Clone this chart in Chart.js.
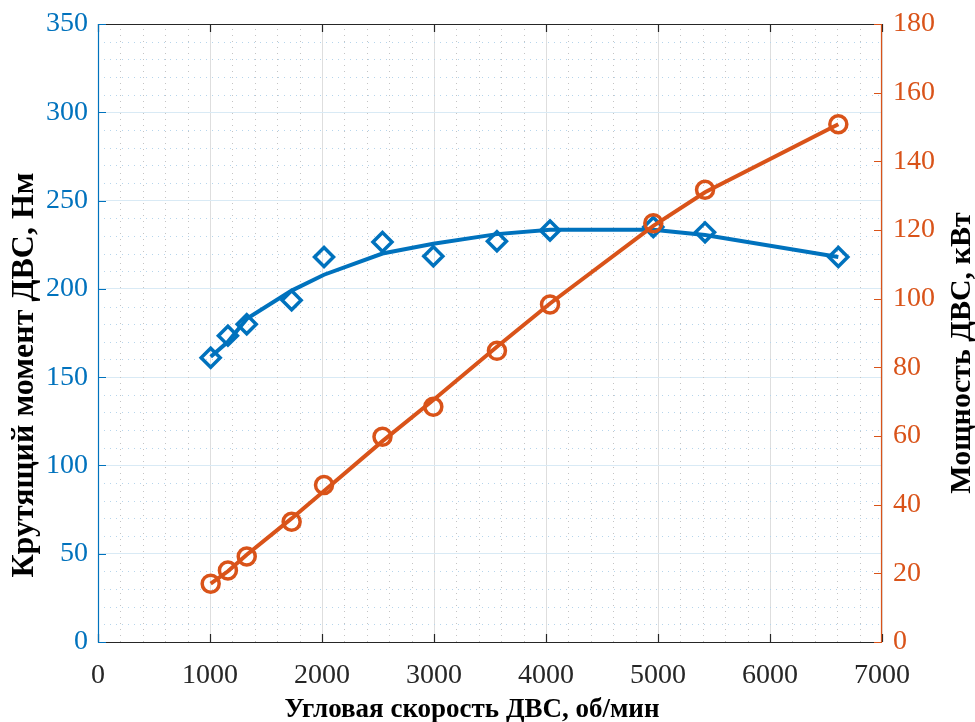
<!DOCTYPE html>
<html lang="ru">
<head>
  <meta charset="UTF-8">
  <title>Характеристика ДВС</title>
  <script src="https://cdn.jsdelivr.net/npm/chart.js"></script>
  <style>
    body { margin: 0; background: #fff; }
    .wrap { width: 975px; height: 722px; position: relative; }
  </style>
</head>
<body>
  <div class="wrap"><canvas id="engine"></canvas></div>
  <script>
    // engine speed, rpm (measured points)
    const rpm = [1006, 1160, 1328, 1729, 2018, 2540, 2994, 3562, 4036, 4958, 5420, 6610];
    // torque, N*m: measured and fitted
    const torque = [161, 173.5, 180, 193.5, 218, 226.5, 218.5, 227, 233, 235, 232, 218];
    const torqueFit = [161.5, 170, 183, 199, 208, 220, 225.5, 231, 233.5, 233.5, 230.5, 218];
    // power, kW: measured and fitted
    const power = [17, 20.8, 24.9, 35, 45.7, 59.8, 68.5, 84.8, 98.3, 122, 131.7, 150.8];
    const powerFit = [17, 20.6, 25.4, 36, 44, 58.5, 70.5, 86, 98.6, 121.2, 131, 150.8];

    const xTicks = [0, 1000, 2000, 3000, 4000, 5000, 6000, 7000];
    const torqueTicks = [0, 50, 100, 150, 200, 250, 300, 350];
    const powerTicks = [0, 20, 40, 60, 80, 100, 120, 140, 160, 180];

    const BLUE = '#0072BD';
    const ORANGE = '#D95319';
    const DARK = '#262626';
    const FONT = "'Liberation Serif', 'Times New Roman', serif";

    const pts = (xs, ys) => xs.map((x, i) => ({ x: x, y: ys[i] }));

    function vText(ctx, text, x, y, size) {
      ctx.save();
      ctx.font = 'bold ' + size + 'px ' + FONT;
      ctx.translate(x, y);
      ctx.rotate(-Math.PI / 2);
      ctx.fillText(text, 0, 0);
      ctx.restore();
    }

    // dotted minor grid, axis box with inward ticks, axis labels
    const matlabAxes = {
      id: 'matlabAxes',
      beforeDatasetsDraw(chart) {
        const { ctx, chartArea: a, scales } = chart;
        const x = scales.x, y = scales.y;
        ctx.save();
        ctx.lineWidth = 1;
        ctx.setLineDash([1, 5]);
        ctx.strokeStyle = '#c4c4c4';
        for (let v = 200; v < 7000; v += 200) {
          if (v % 1000 === 0) continue;
          const px = Math.round(x.getPixelForValue(v)) + 0.5;
          ctx.beginPath(); ctx.moveTo(px, a.bottom); ctx.lineTo(px, a.top); ctx.stroke();
        }
        ctx.strokeStyle = '#b6d5ec';
        for (let v = 10; v < 350; v += 10) {
          if (v % 50 === 0) continue;
          const py = Math.round(y.getPixelForValue(v)) + 0.5;
          ctx.beginPath(); ctx.moveTo(a.left, py); ctx.lineTo(a.right, py); ctx.stroke();
        }
        ctx.restore();
      },
      afterDatasetsDraw(chart) {
        const { ctx, chartArea: a, scales } = chart;
        const tl = 8;
        ctx.save();
        ctx.lineWidth = 1.2;
        // top and bottom
        ctx.strokeStyle = DARK;
        ctx.beginPath();
        ctx.moveTo(a.left, a.top + 0.5); ctx.lineTo(a.right, a.top + 0.5);
        ctx.moveTo(a.left, a.bottom + 0.5); ctx.lineTo(a.right, a.bottom + 0.5);
        xTicks.forEach(v => {
          const px = Math.round(scales.x.getPixelForValue(v)) + 0.5;
          ctx.moveTo(px, a.bottom); ctx.lineTo(px, a.bottom - tl);
          ctx.moveTo(px, a.top); ctx.lineTo(px, a.top + tl);
        });
        ctx.stroke();
        // left axis
        ctx.strokeStyle = BLUE;
        ctx.beginPath();
        ctx.moveTo(a.left + 0.5, a.top); ctx.lineTo(a.left + 0.5, a.bottom + 1);
        torqueTicks.forEach(v => {
          const py = Math.round(scales.y.getPixelForValue(v)) + 0.5;
          ctx.moveTo(a.left, py); ctx.lineTo(a.left + tl, py);
        });
        ctx.stroke();
        // right axis
        ctx.strokeStyle = ORANGE;
        ctx.beginPath();
        ctx.moveTo(a.right - 0.5, a.top); ctx.lineTo(a.right - 0.5, a.bottom + 1);
        powerTicks.forEach(v => {
          const py = Math.round(scales.y2.getPixelForValue(v)) + 0.5;
          ctx.moveTo(a.right, py); ctx.lineTo(a.right - tl, py);
        });
        ctx.stroke();
        ctx.restore();
      },
      afterDraw(chart) {
        const { ctx } = chart;
        ctx.save();
        ctx.fillStyle = '#000';
        ctx.textAlign = 'center';
        ctx.textBaseline = 'middle';
        ctx.font = 'bold 27px ' + FONT;
        ctx.fillText('Угловая скорость ДВС, об/мин', 472, 710);
        vText(ctx, 'Крутящий момент ДВС, Нм', 25, 375, 32);
        vText(ctx, 'Мощность ДВС, кВт', 962, 353, 30);
        ctx.restore();
      }
    };

    const tickFont = { family: FONT, size: 28 };
    const fitY = w => s => { s.width = w; s.paddingTop = 0; s.paddingBottom = 0; };

    new Chart(document.getElementById('engine'), {
      type: 'scatter',
      data: {
        datasets: [
          {
            label: 'Мощность (аппрокс.)',
            data: pts(rpm, powerFit),
            yAxisID: 'y2',
            showLine: true,
            borderColor: ORANGE,
            borderWidth: 4,
            pointRadius: 0,
            order: 1
          },
          {
            label: 'Мощность',
            data: pts(rpm, power),
            yAxisID: 'y2',
            showLine: false,
            pointStyle: 'circle',
            pointRadius: 8.5,
            pointBorderWidth: 3.5,
            pointBorderColor: ORANGE,
            pointBackgroundColor: 'rgba(0,0,0,0)',
            order: 1
          },
          {
            label: 'Момент (аппрокс.)',
            data: pts(rpm, torqueFit),
            yAxisID: 'y',
            showLine: true,
            borderColor: BLUE,
            borderWidth: 4,
            pointRadius: 0,
            order: 2
          },
          {
            label: 'Момент',
            data: pts(rpm, torque),
            yAxisID: 'y',
            showLine: false,
            pointStyle: 'rectRot',
            pointRadius: 9.5,
            pointBorderWidth: 3.5,
            pointBorderColor: BLUE,
            pointBackgroundColor: 'rgba(0,0,0,0)',
            order: 2
          }
        ]
      },
      options: {
        responsive: true,
        maintainAspectRatio: false,
        animation: false,
        layout: { padding: { top: 24, left: 0, right: 0, bottom: 0 } },
        plugins: { legend: { display: false }, tooltip: { enabled: false } },
        scales: {
          x: {
            type: 'linear',
            min: 0, max: 7000,
            afterFit: s => { s.height = 80; s.paddingLeft = 0; s.paddingRight = 0; },
            afterBuildTicks: s => { s.ticks = xTicks.map(v => ({ value: v })); },
            grid: { color: '#dedede', drawTicks: false },
            border: { display: false },
            ticks: { color: DARK, padding: 17, font: tickFont, callback: v => String(v) }
          },
          y: {
            position: 'left',
            min: 0, max: 350,
            afterFit: fitY(98),
            afterBuildTicks: s => { s.ticks = torqueTicks.map(v => ({ value: v })); },
            grid: { color: '#d9eaf5', drawTicks: false },
            border: { display: false },
            ticks: { color: BLUE, padding: 10, font: tickFont, callback: v => String(v) }
          },
          y2: {
            position: 'right',
            min: 0, max: 180,
            afterFit: fitY(93),
            afterBuildTicks: s => { s.ticks = powerTicks.map(v => ({ value: v })); },
            grid: { display: false, drawTicks: false },
            border: { display: false },
            ticks: { color: ORANGE, padding: 11, font: tickFont, callback: v => String(v) }
          }
        }
      },
      plugins: [matlabAxes]
    });
  </script>
</body>
</html>
